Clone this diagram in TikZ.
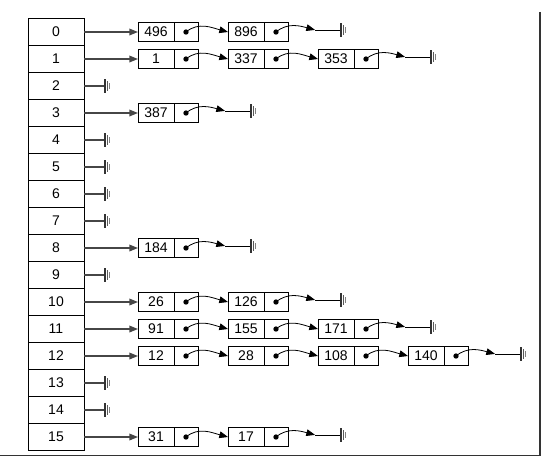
\documentclass[tikz,border=0pt]{standalone}
\usepackage{fontspec}
\setmainfont{Liberation Sans}
\usepackage{tikz}
\usetikzlibrary{arrows.meta,positioning}

\tikzset{
  slot/.style={draw, thin, minimum width=42pt, minimum height=20.25pt, inner sep=0pt, outer sep=0pt},
  keycell/.style={draw, thin, minimum width=27pt, minimum height=14.25pt, inner sep=0pt, outer sep=0pt},
  ptrcell/.style={draw, thin, minimum width=18pt, minimum height=14.25pt, inner sep=0pt, outer sep=0pt},
  headarrow/.style={-{Triangle[length=6.5pt,width=5pt]}, gray!55!black, line width=1pt},
  linkarrow/.style={-{Triangle[length=6.5pt,width=5pt]}, black, line width=0.6pt},
  nullmark/.pic={
    \draw[black!80, line width=1pt] (0,-5pt) -- (0,5pt);
    \draw[gray!70!black, line width=0.9pt] (1.7pt,-3.5pt) -- (1.7pt,3.5pt);
    \draw[gray, line width=0.8pt] (3.3pt,-2pt) -- (3.3pt,2pt);
  }
}

\begin{document}
\begin{tikzpicture}[x=22.5pt, y=-22.5pt, font=\fontsize{10.5}{12}\selectfont]
  \useasboundingbox (0,0) rectangle (18.033,15.2);

  % Bucket table
  \foreach \r in {0,...,15}
    \node[slot] (r\r) at (1.867, 1.067+0.9*\r) {\r};

  % Empty buckets
  \foreach \r in {2,4,5,6,7,9,13,14} {
    \draw[gray!55!black, line width=1pt] (r\r.east) -- ++(0.7,0) coordinate (z\r);
    \pic at (z\r) {nullmark};
  }

  % Chains: row / last index / keys
  \foreach \r/\n/\keys in {0/1/{496,896}, 1/2/{1,337,353}, 3/0/{387}, 8/0/{184},
      10/1/{26,126}, 11/2/{91,155,171}, 12/3/{12,28,108,140}, 15/1/{31,17}} {
    \foreach \k [count=\j from 0, remember=\j as \prev (initially 0)] in \keys {
      \node[keycell] (d\r-\j) at (5.2+3*\j, 1.067+0.9*\r) {\k};
      \node[ptrcell, right=0pt of d\r-\j] (p\r-\j) {};
      \fill (p\r-\j.center) circle (2pt);
      \ifnum\j=0
        \draw[headarrow] (r\r) -- (d\r-\j);
      \else
        \draw[linkarrow] (p\r-\prev.center) to[out=40, in=165] (d\r-\j.west);
      \fi
    }
    % NULL at the end of the chain
    \draw[linkarrow] (p\r-\n.center) to[out=40, in=165] ++(1.3,-0.07) coordinate (t\r);
    \draw[line width=0.6pt] (t\r) -- ++(0.87,0) coordinate (g\r);
    \pic at (g\r) {nullmark};
  }

  % Frame edge
  \draw[gray!40!black, line width=0.8pt] (18.0,0.4) -- (18.0,15.17) -- (0,15.17);
\end{tikzpicture}
\end{document}
